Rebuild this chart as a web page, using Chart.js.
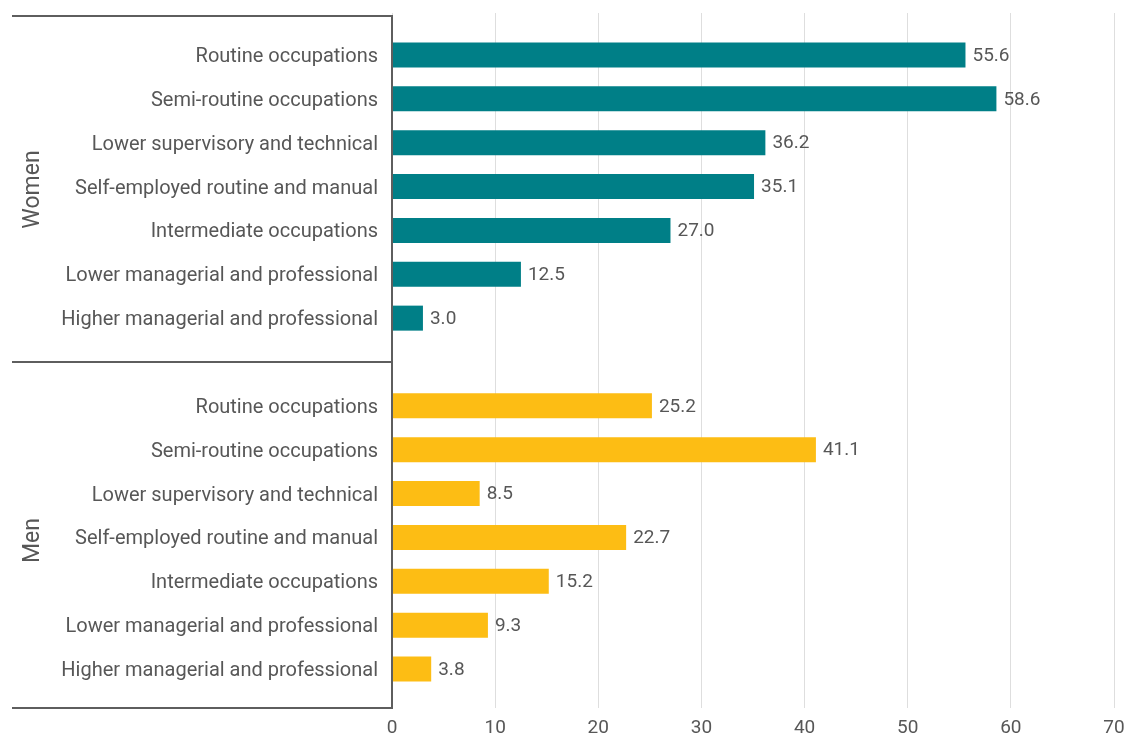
<!DOCTYPE html>
<html>
<head>
<meta charset="utf-8">
<title>Occupational class by sex</title>
<script src="https://cdn.jsdelivr.net/npm/chart.js@4/dist/chart.umd.min.js"></script>
<style>
  html, body { margin: 0; padding: 0; background: #ffffff; }
  #wrap { position: relative; width: 1129px; height: 735px; }
</style>
</head>
<body>
<div id="wrap"><canvas id="chart"></canvas></div>
<script>
// Occupational classes, listed top to bottom within each group
const occupations = [
  'Routine occupations',
  'Semi-routine occupations',
  'Lower supervisory and technical',
  'Self-employed routine and manual',
  'Intermediate occupations',
  'Lower managerial and professional',
  'Higher managerial and professional'
];
const groupNames = ['Women', 'Men'];
const womenValues = [55.6, 58.6, 36.2, 35.1, 27.0, 12.5, 3.0];
const menValues = [25.2, 41.1, 8.5, 22.7, 15.2, 9.3, 3.8];
const xTicks = [0, 10, 20, 30, 40, 50, 60, 70];

// Category axis: women block, one blank spacer row, men block
const categories = [...occupations, '', ...occupations];
const blanks = occupations.map(() => null);
const womenSeries = [...womenValues, null, ...blanks];
const menSeries = [...blanks, null, ...menValues];

const TEXT = '#575757';
const FRAME = '#5e5e5e';
const GRID = '#dedede';
const FONT = 'Roboto, "Open Sans", sans-serif';

// Value labels, group titles and the bracket frame on the left
const annotate = {
  id: 'annotate',
  afterDatasetsDraw(chart) {
    const { ctx, chartArea, scales } = chart;
    const y = scales.y;
    ctx.save();

    // value labels at the end of each bar
    ctx.fillStyle = TEXT;
    ctx.font = '19px ' + FONT;
    ctx.textAlign = 'left';
    ctx.textBaseline = 'middle';
    chart.data.datasets.forEach((ds, di) => {
      const meta = chart.getDatasetMeta(di);
      meta.data.forEach((bar, i) => {
        const v = ds.data[i];
        if (v === null || v === undefined) return;
        ctx.fillText(v.toFixed(1), bar.x + 7, bar.y + 1);
      });
    });

    // bracket frame
    const left = 12;
    const top = chartArea.top - 17;
    const bottom = chartArea.bottom + 17;
    const axisX = chartArea.left;
    const divide = y.getPixelForValue(occupations.length);
    ctx.strokeStyle = FRAME;
    ctx.lineWidth = 2;
    ctx.beginPath();
    ctx.moveTo(left, top);
    ctx.lineTo(axisX, top);
    ctx.lineTo(axisX, bottom);
    ctx.lineTo(left, bottom);
    ctx.moveTo(left, divide);
    ctx.lineTo(axisX, divide);
    ctx.stroke();

    // rotated group titles
    ctx.font = '23px ' + FONT;
    ctx.textAlign = 'center';
    ctx.textBaseline = 'middle';
    const mid = (occupations.length - 1) / 2;
    groupNames.forEach((name, g) => {
      const cy = y.getPixelForValue(mid + g * (occupations.length + 1));
      ctx.save();
      ctx.translate(33, cy + 3);
      ctx.rotate(-Math.PI / 2);
      ctx.fillText(name, 0, 0);
      ctx.restore();
    });
    ctx.restore();
  }
};

// keep the value axes flush with the layout padding on the right
function fitValueAxis(height) {
  return function (scale) {
    if (height !== null) scale.height = height;
    scale.paddingLeft = 0;
    scale.paddingRight = 0;
  };
}

new Chart(document.getElementById('chart'), {
  type: 'bar',
  data: {
    labels: categories,
    datasets: [
      { label: groupNames[0], data: womenSeries, backgroundColor: '#007f87' },
      { label: groupNames[1], data: menSeries, backgroundColor: '#fdbd14' }
    ]
  },
  options: {
    indexAxis: 'y',
    responsive: true,
    maintainAspectRatio: false,
    animation: false,
    grouped: false,
    barPercentage: 0.57,
    categoryPercentage: 1,
    layout: { padding: { top: 13, right: 15, bottom: 0, left: 0 } },
    plugins: { legend: { display: false }, tooltip: { enabled: false } },
    scales: {
      x: {
        type: 'linear',
        position: 'bottom',
        min: xTicks[0],
        max: xTicks[xTicks.length - 1],
        afterBuildTicks(scale) { scale.ticks = xTicks.map(v => ({ value: v })); },
        afterFit: fitValueAxis(44),
        grid: { color: GRID, lineWidth: 1, drawTicks: true, tickLength: 17 },
        border: { display: false },
        ticks: { color: TEXT, font: { family: FONT, size: 19 }, padding: 9 }
      },
      x2: {
        type: 'linear',
        position: 'top',
        min: xTicks[0],
        max: xTicks[xTicks.length - 1],
        afterBuildTicks(scale) { scale.ticks = xTicks.map(v => ({ value: v })); },
        afterFit: fitValueAxis(null),
        grid: { color: GRID, lineWidth: 1, drawOnChartArea: false, drawTicks: true, tickLength: 20 },
        border: { display: false },
        ticks: { display: false }
      },
      y: {
        type: 'category',
        grid: { display: false, drawTicks: false },
        border: { display: false },
        ticks: { color: TEXT, font: { family: FONT, size: 20 }, padding: 14, autoSkip: false, labelOffset: 2 },
        afterFit(scale) { scale.width = 392; }
      }
    }
  },
  plugins: [annotate]
});
</script>
</body>
</html>
